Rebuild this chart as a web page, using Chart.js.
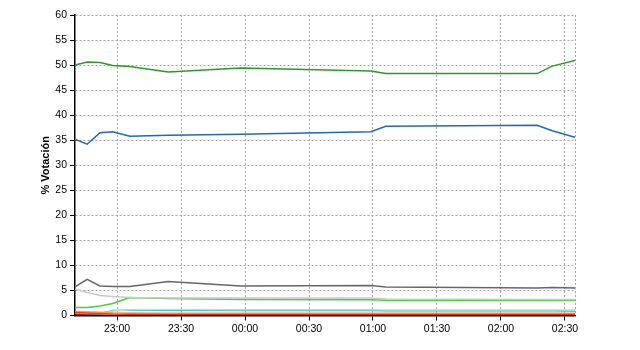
<!DOCTYPE html>
<html>
<head>
<meta charset="utf-8">
<script src="https://cdn.jsdelivr.net/npm/chart.js@4"></script>
<style>
  body { margin: 0; background: #fff; }
</style>
</head>
<body>
<canvas id="voteChart" width="640" height="350"></canvas>
<script>
// minutes after 22:00
const times = [40.3, 46, 52, 58, 66, 84, 118, 179, 186, 257, 264, 274.7];
const xTicks = [60, 90, 120, 150, 180, 210, 240, 270, 274.7];

const green = [50.0, 50.6, 50.5, 49.9, 49.7, 48.6, 49.4, 48.8, 48.3, 48.3, 49.8, 50.9];
const blue = [35.2, 34.2, 36.5, 36.7, 35.8, 36.0, 36.2, 36.7, 37.8, 38.0, 36.9, 35.6];
const darkGrey = [5.7, 7.2, 5.9, 5.8, 5.8, 6.8, 5.9, 6.0, 5.7, 5.5, 5.6, 5.5];
const lightGrey = [5.3, 4.6, 4.0, 3.8, 3.6, 3.5, 3.5, 3.5, 3.3, 3.2, 3.2, 3.2];
const lime = [1.6, 1.6, 1.9, 2.4, 3.6, 3.4, 3.2, 3.15, 3.05, 3.0, 3.0, 3.05];
const paleCyan = [0.2, 0.2, 0.3, 0.9, 1.15, 1.2, 1.15, 1.15, 1.1, 1.1, 1.1, 1.1];
const cyan = [0.3, 0.3, 0.4, 1.0, 1.05, 1.05, 1.0, 1.0, 0.95, 0.95, 0.95, 0.9];
const orange = [0.8, 0.75, 0.65, 0.55, 0.5, 0.45, 0.45, 0.45, 0.45, 0.45, 0.45, 0.45];
const red = [0.6, 0.5, 0.4, 0.3, 0.25, 0.2, 0.2, 0.2, 0.2, 0.2, 0.2, 0.2];
const darkRed = [0.2, 0.15, 0.1, 0.05, 0.05, 0.05, 0.05, 0.05, 0.05, 0.05, 0.05, 0.05];

const series = [
    [darkRed, '#8a1a00', 1],
    [red, '#e8401c', 1.5],
    [orange, '#ff9a4a', 1.5],
    [paleCyan, '#a6e6e6', 1.5],
    [cyan, '#1cb8cc', 1.5],
    [lightGrey, '#c8c8c8', 1.5],
    [lime, '#50c850', 1.5],
    [darkGrey, '#666666', 1.5],
    [blue, '#2169b0', 1.5],
    [green, '#2f962f', 1.5]
];

const fmtTime = m => {
    const h = (22 + Math.floor(m / 60)) % 24;
    const mm = Math.round(m % 60);
    return String(h).padStart(2, '0') + ':' + String(mm).padStart(2, '0');
};

const gridColor = '#aaa4aa';
const tickFont = { family: '"Liberation Sans", Arial, sans-serif', size: 10.5 };

new Chart(document.getElementById('voteChart'), {
    type: 'line',
    data: {
        datasets: series.map(([vals, color, w]) => ({
            data: times.map((t, i) => ({ x: t, y: vals[i] })),
            borderColor: color,
            borderWidth: w,
            pointRadius: 0,
            tension: 0,
            fill: false
        }))
    },
    options: {
        responsive: false,
        animation: false,
        layout: { padding: { top: 15, right: 65, bottom: 0, left: 0 } },
        plugins: { legend: { display: false }, tooltip: { enabled: false } },
        scales: {
            x: {
                type: 'linear',
                min: times[0],
                max: times[times.length - 1],
                afterBuildTicks: s => { s.ticks = xTicks.map(v => ({ value: v })); },
                afterFit: s => { s.height = 34.5; },
                ticks: {
                    color: '#000',
                    font: tickFont,
                    padding: 2,
                    maxRotation: 0,
                    autoSkip: false,
                    callback: v => (v > 270 ? '' : fmtTime(v))
                },
                grid: {
                    color: gridColor,
                    tickLength: 5,
                    tickColor: ctx => (ctx.tick && ctx.tick.value > 270 ? 'rgba(0,0,0,0)' : '#000')
                },
                border: { color: '#000', width: 1.5, dash: [2, 2] }
            },
            y: {
                min: 0,
                max: 60,
                afterFit: s => { s.width = 75; },
                ticks: { stepSize: 5, color: '#000', font: tickFont, padding: 3 },
                grid: { color: gridColor, tickLength: 5, tickColor: '#000' },
                border: { color: '#000', width: 1.5, dash: [2, 2] },
                title: {
                    display: true,
                    text: '% Votación',
                    color: '#000',
                    font: { family: '"Liberation Sans", Arial, sans-serif', size: 11, weight: 'bold' },
                    padding: { top: 39, bottom: 0 }
                }
            }
        }
    }
});
</script>
</body>
</html>
